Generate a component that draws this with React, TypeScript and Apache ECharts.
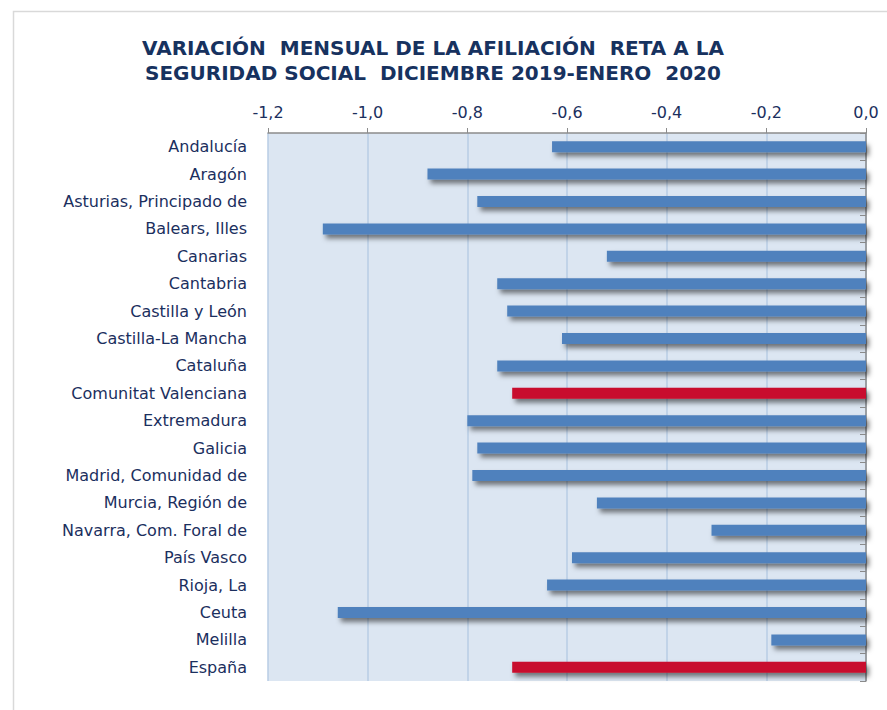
import React, { useEffect, useRef } from "react";
import * as echarts from "echarts";

const titleLines = [
  "VARIACIÓN  MENSUAL DE LA AFILIACIÓN  RETA A LA",
  "SEGURIDAD SOCIAL  DICIEMBRE 2019-ENERO  2020",
];

const categories = [
  "Andalucía",
  "Aragón",
  "Asturias, Principado de",
  "Balears, Illes",
  "Canarias",
  "Cantabria",
  "Castilla y León",
  "Castilla-La Mancha",
  "Cataluña",
  "Comunitat Valenciana",
  "Extremadura",
  "Galicia",
  "Madrid, Comunidad de",
  "Murcia, Región de",
  "Navarra, Com. Foral de",
  "País Vasco",
  "Rioja, La",
  "Ceuta",
  "Melilla",
  "España",
];

const values = [
  -0.63, -0.88, -0.78, -1.09, -0.52, -0.74, -0.72, -0.61, -0.74, -0.71,
  -0.8, -0.78, -0.79, -0.54, -0.31, -0.59, -0.64, -1.06, -0.19, -0.71,
];

const highlighted = ["Comunitat Valenciana", "España"];

const xMin = -1.2;
const xMax = 0;
const xInterval = 0.2;

const BLUE = "#4F81BD";
const RED = "#C8102E";
const NAVY = "#1B2F5E";

export default function App() {
  const ref = useRef<HTMLDivElement>(null);

  useEffect(() => {
    if (!ref.current) return;
    const chart = echarts.init(ref.current, null, { renderer: "svg" });
    const data = values.map((v, i) => ({
      value: v,
      itemStyle: {
        color: highlighted.includes(categories[i]) ? RED : BLUE,
      },
    }));
    chart.setOption({
      animation: false,
      backgroundColor: "#FFFFFF",
      title: {
        text: titleLines.join("\n"),
        left: 428,
        top: 30,
        textAlign: "center",
        textStyle: {
          fontFamily: "DejaVu Sans",
          fontWeight: "bold",
          fontSize: 20,
          lineHeight: 25,
          color: "#17325F",
        },
      },
      graphic: [
        {
          type: "rect",
          shape: { x: 13.5, y: 11.5, width: 1000, height: 1000 },
          style: { fill: "none", stroke: "#D9D9D9", lineWidth: 1.5 },
          silent: true,
          z: -10,
        },
      ],
      grid: {
        left: 268,
        right: 21,
        top: 133,
        bottom: 29,
        show: true,
        backgroundColor: "#DCE6F2",
        borderWidth: 0,
      },
      xAxis: {
        type: "value",
        position: "top",
        min: xMin,
        max: xMax,
        interval: xInterval,
        axisLine: { show: true, onZero: false, lineStyle: { color: "#8C8C8C", width: 1.5 } },
        axisTick: { show: true, length: 5, lineStyle: { color: "#8C8C8C", width: 1 } },
        splitLine: { show: true, lineStyle: { color: "#B9CDE5", width: 1.5 } },
        axisLabel: {
          margin: 13,
          color: NAVY,
          fontFamily: "DejaVu Sans",
          fontSize: 16,
          formatter: (v: number) => v.toFixed(1).replace(".", ","),
        },
      },
      yAxis: [
        {
          type: "category",
          data: categories,
          inverse: true,
          position: "left",
          axisLine: { show: false },
          axisTick: { show: false },
          axisLabel: {
            margin: 21,
            color: NAVY,
            fontFamily: "DejaVu Sans",
            fontSize: 16,
          },
        },
        {
          type: "category",
          data: categories,
          inverse: true,
          position: "right",
          axisLine: { show: true, lineStyle: { color: "#8C8C8C", width: 1.5 } },
          axisTick: { show: true, inside: true, length: 6, lineStyle: { color: "#8C8C8C" } },
          axisLabel: { show: false },
        },
      ],
      series: [
        {
          type: "bar",
          yAxisIndex: 0,
          data,
          barWidth: 11,
          itemStyle: {
            shadowColor: "rgba(0,0,0,0.5)",
            shadowBlur: 5,
            shadowOffsetX: 3,
            shadowOffsetY: 4,
          },
        },
      ],
    });
    return () => chart.dispose();
  }, []);

  return (
    <div
      ref={ref}
      style={{ position: "fixed", left: 0, top: 0, width: 887, height: 710 }}
    />
  );
}
